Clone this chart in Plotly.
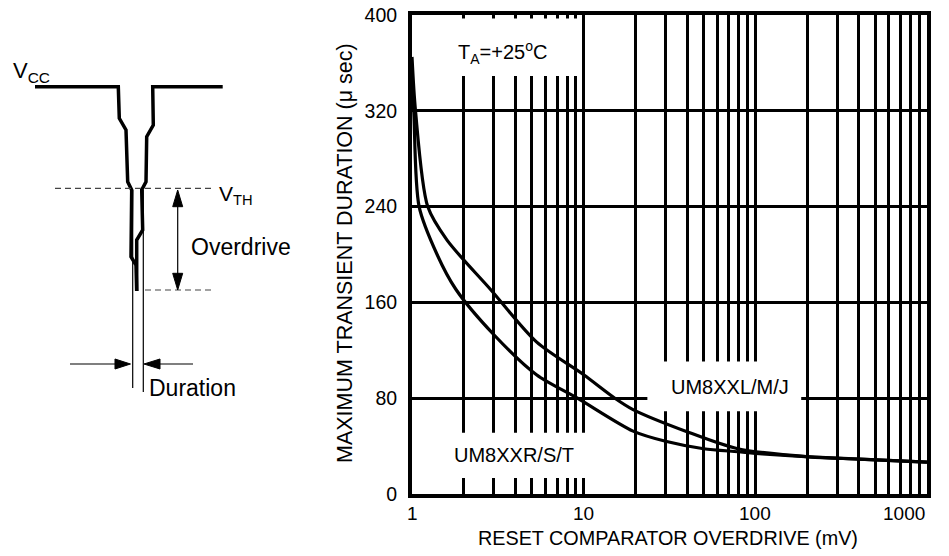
import math
import plotly.graph_objects as go

# ---------------- data ----------------
overdrive_lmj = [1, 1.048, 1.235, 1.6, 2.86, 5.31, 10, 15.2, 19.4, 40, 79, 206, 400, 1000]
duration_lmj = [365, 320, 240, 212, 171, 127, 99.6, 80, 70.5, 52, 37.8, 31, 29.2, 26.7]

overdrive_rst = [1, 1.024, 1.10, 1.4, 1.80, 3, 5.31, 9.2, 19.4, 30, 50, 79, 110, 206, 1000]
duration_rst = [342, 320, 240, 200, 171, 133, 99.6, 80, 52.5, 44, 37.8, 35.3, 33.5, 31, 26.7]

series_names = ["UM8XXL/M/J", "UM8XXR/S/T"]
x_tick_vals = [1, 10, 100, 1000]
x_tick_text = ["1", "10", "100", "1000"]
y_tick_vals = [0, 80, 160, 240, 320, 400]
x_minor_vals = [m * d for d in (1, 10, 100) for m in range(2, 10)]

W, H = 949, 556
FONT = "Arial, Liberation Sans, sans-serif"


def px(x):
    return x / W


def py(y):
    return 1 - y / H


fig = go.Figure()
for xs, ys, nm in [(overdrive_lmj, duration_lmj, series_names[0]),
                   (overdrive_rst, duration_rst, series_names[1])]:
    fig.add_trace(go.Scatter(x=xs, y=ys, mode="lines", name=nm,
                             line=dict(color="black", width=3.2, shape="spline", smoothing=0.8),
                             showlegend=False, hoverinfo="skip"))

X0, X1, Y0, Y1 = 412, 927, 494, 15
fig.update_layout(
    template="none",
    width=W, height=H, autosize=False,
    margin=dict(l=0, r=0, t=0, b=0, pad=0),
    paper_bgcolor="white", plot_bgcolor="white",
    font=dict(family=FONT, color="black"),
    xaxis=dict(type="log", range=[0, 3], domain=[px(X0), px(X1)],
               tickvals=x_tick_vals, showticklabels=False, ticks="",
               showgrid=True, gridcolor="black", gridwidth=3,
               minor=dict(tickvals=x_minor_vals, showgrid=True,
                          gridcolor="black", gridwidth=3, ticks=""),
               showline=True, mirror=True, linecolor="black", linewidth=4,
               zeroline=False, automargin=False),
    yaxis=dict(range=[0, 400], domain=[py(Y0), py(Y1)],
               tickvals=y_tick_vals, ticks="",
               tickfont=dict(size=19.5, family=FONT, color="black"),
               showgrid=True, gridcolor="black", gridwidth=3,
               showline=True, mirror=True, linecolor="black", linewidth=4,
               zeroline=False, ticklabelstandoff=7, automargin=False),
)

# white label boxes (x in data units)
boxes = [
    (1.15, 9.5, 349, 397),        # T_A box
    (1.7, 14.0, 13.4, 51.2),      # UM8XXR/S/T box
    (23.5, 185.0, 69.0, 110.7),   # UM8XXL/M/J box
]
for a, b, c, d in boxes:
    fig.add_shape(type="rect", xref="x", yref="y",
                  x0=a, x1=b, y0=c, y1=d,
                  fillcolor="white", line=dict(width=0), layer="above")

# x tick labels (annotation x on a log axis is log10)
for v, t in zip(x_tick_vals, x_tick_text):
    fig.add_annotation(x=math.log10(v), xref="x", y=py(513), yref="paper",
                       text=t, showarrow=False,
                       xanchor="right" if v == 1000 else "center",
                       yanchor="middle", font=dict(size=19, family=FONT))


def label(x, y, text, size, xanchor="center", angle=0):
    fig.add_annotation(x=px(x), y=py(y), xref="paper", yref="paper",
                       text=text, showarrow=False, xanchor=xanchor,
                       yanchor="middle", textangle=angle,
                       font=dict(size=size, family=FONT, color="black"))


# axis titles
label(668, 538, "RESET COMPARATOR OVERDRIVE (mV)", 19.8)
label(345, 253, "MAXIMUM TRANSIENT DURATION (\u03bc sec)", 21.5, angle=-90)

# in-chart labels
label(503, 53, "T<sub>A</sub>=+25<sup>o</sup>C", 20)
label(730, 387, series_names[0], 20)
label(514, 455, series_names[1], 20)

# ---------------- schematic on the left ----------------
def path(pts, close=False):
    s = "M " + " L ".join(f"{px(x):.5f},{py(y):.5f}" for x, y in pts)
    return s + (" Z" if close else "")


thick = dict(color="black", width=3.5)
thin = dict(color="black", width=1.2)
dash = dict(color="#444444", width=1.2, dash="6px,4px")

left_edge = [(35, 86.7), (118.3, 86.7), (119.3, 118.3), (126, 130), (127.7, 181.7),
             (131.7, 190), (131, 256.7), (136, 265), (136.7, 291)]
right_edge = [(222.7, 86.7), (152.7, 86.7), (153.3, 125), (146.7, 136.7), (146, 181.7),
              (141.7, 190), (142.7, 230), (136.7, 240), (136.7, 291)]
for pts in (left_edge, right_edge):
    fig.add_shape(type="path", xref="paper", yref="paper", path=path(pts), line=thick)


def seg(x0, y0, x1, y1, line):
    fig.add_shape(type="line", xref="paper", yref="paper",
                  x0=px(x0), x1=px(x1), y0=py(y0), y1=py(y1), line=line)


def tri(pts):
    fig.add_shape(type="path", xref="paper", yref="paper", path=path(pts, True),
                  fillcolor="black", line=dict(color="black", width=1))


# dashed levels
seg(55, 188.3, 213, 188.3, dash)
seg(145, 290, 213, 290, dash)

# duration markers
seg(132.7, 190, 132.7, 388, thin)
seg(143.3, 190, 143.3, 392, thin)
seg(70, 364, 120, 364, thin)
seg(155, 364, 193, 364, thin)
tri([(130.5, 364), (115, 359), (115, 369)])
tri([(144, 364), (160, 359), (160, 369)])

# overdrive double arrow
seg(177.7, 200, 177.7, 280, thin)
tri([(177.7, 190), (172.7, 206.7), (182.7, 206.7)])
tri([(177.7, 290), (172.7, 273.3), (182.7, 273.3)])

label(11, 72, "V<sub>CC</sub>", 22, xanchor="left")
label(217, 195, "V<sub>TH</sub>", 21, xanchor="left")
label(189, 247, "Overdrive", 23, xanchor="left")
label(147, 388, "Duration", 23, xanchor="left")

fig.write_html("out.html", config={"displayModeBar": False},
               post_script="document.body.style.margin='0';document.body.style.padding='0';")
